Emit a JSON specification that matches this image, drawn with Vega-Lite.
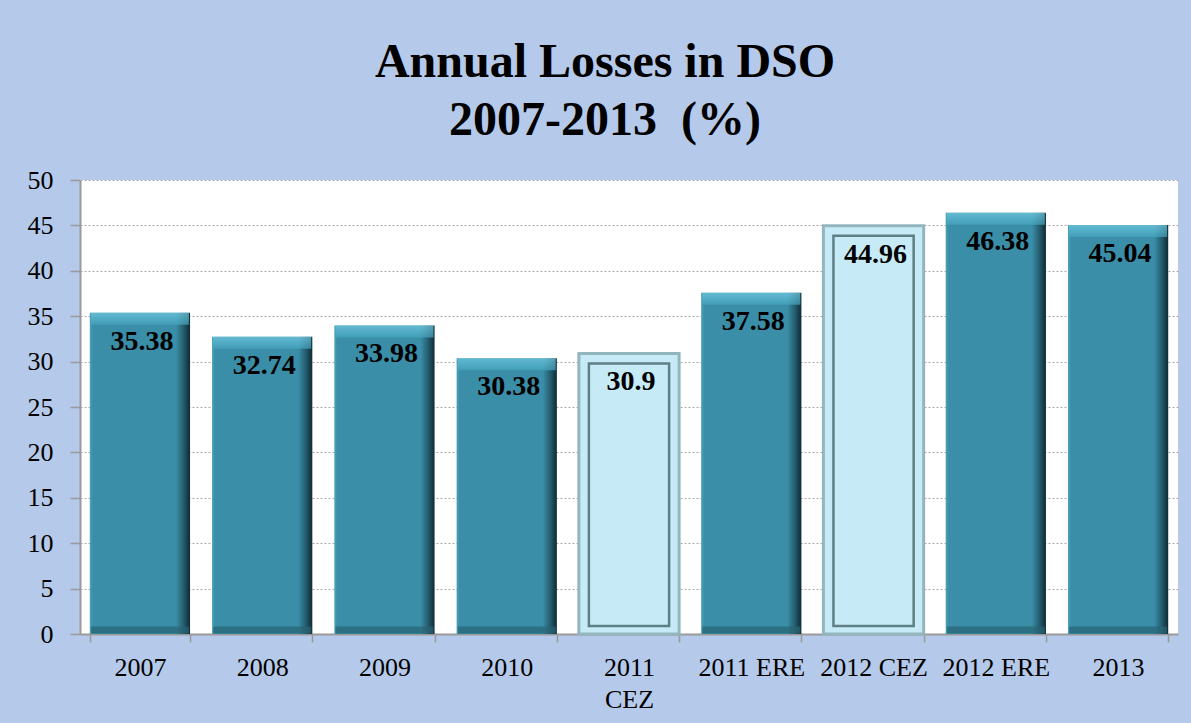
{
  "$schema": "https://vega.github.io/schema/vega-lite/v6.json",
  "autosize": {"type": "none"},
  "padding": {"left": 80, "top": 180, "right": 13, "bottom": 89},
  "width": 1098,
  "height": 454,
  "background": "#b5c9ea",
  "view": {"fill": "white", "stroke": null},
  "title": {
    "text": ["Annual Losses in DSO", "2007-2013\u00a0\u00a0(%)"],
    "font": "Liberation Serif",
    "fontSize": 48,
    "fontWeight": "bold",
    "lineHeight": 58,
    "color": "#000000",
    "anchor": "middle",
    "dx": -24,
    "offset": 22
  },
  "config": {
    "axis": {
      "labelFont": "Liberation Serif",
      "labelFontSize": 26,
      "labelColor": "#000000",
      "domainColor": "#9a9a9a",
      "domainWidth": 2,
      "tickColor": "#9a9a9a",
      "tickWidth": 1.5,
      "title": null
    }
  },
  "data": {
    "values": [
      {"period": "2007", "loss": 35.38, "operator": "DSO"},
      {"period": "2008", "loss": 32.74, "operator": "DSO"},
      {"period": "2009", "loss": 33.98, "operator": "DSO"},
      {"period": "2010", "loss": 30.38, "operator": "DSO"},
      {"period": "2011 CEZ", "loss": 30.9, "operator": "CEZ"},
      {"period": "2011 ERE", "loss": 37.58, "operator": "ERE"},
      {"period": "2012 CEZ", "loss": 44.96, "operator": "CEZ"},
      {"period": "2012 ERE", "loss": 46.38, "operator": "ERE"},
      {"period": "2013", "loss": 45.04, "operator": "DSO"}
    ]
  },
  "encoding": {
    "x": {
      "field": "period",
      "type": "nominal",
      "sort": ["2007", "2008", "2009", "2010", "2011 CEZ", "2011 ERE", "2012 CEZ", "2012 ERE", "2013"],
      "scale": {"paddingInner": 0.18, "paddingOuter": 0.08},
      "axis": {
        "labelAngle": 0,
        "tickBand": "extent",
        "tickSize": 8,
        "labelPadding": 12,
        "labelLineHeight": 32,
        "labelExpr": "datum.label == '2011 CEZ' ? ['2011', 'CEZ'] : datum.label"
      }
    },
    "y": {
      "field": "loss",
      "type": "quantitative",
      "scale": {"domain": [0, 50]},
      "axis": {
        "values": [0, 5, 10, 15, 20, 25, 30, 35, 40, 45, 50],
        "grid": true,
        "gridColor": "#a8a8a8",
        "gridDash": [2, 2],
        "gridWidth": 1,
        "tickSize": 10,
        "labelPadding": 17
      }
    }
  },
  "layer": [
    {
      "transform": [{"filter": "datum.operator != 'CEZ'"}],
      "mark": {
        "type": "bar",
        "color": {
          "gradient": "linear",
          "x1": 0, "x2": 1, "y1": 0, "y2": 0,
          "stops": [
            {"offset": 0, "color": "#4ea3bb"},
            {"offset": 0.03, "color": "#3a8ea8"},
            {"offset": 0.86, "color": "#3a8ea8"},
            {"offset": 0.94, "color": "#23596a"},
            {"offset": 1, "color": "#0f2a33"}
          ]
        }
      }
    },
    {
      "transform": [{"filter": "datum.operator != 'CEZ'"}],
      "mark": {
        "type": "tick",
        "thickness": 12,
        "size": 98,
        "yOffset": 6,
        "color": {
          "gradient": "linear",
          "x1": 0, "x2": 0, "y1": 0, "y2": 1,
          "stops": [
            {"offset": 0, "color": "#74cde4"},
            {"offset": 1, "color": "#45a4be"}
          ]
        }
      }
    },
    {
      "transform": [{"filter": "datum.operator != 'CEZ'"}],
      "mark": {"type": "tick", "thickness": 7, "size": 98, "yOffset": -4, "color": "#2a6474"},
      "encoding": {"y": {"datum": 0}}
    },
    {
      "transform": [{"filter": "datum.operator == 'CEZ'"}],
      "mark": {"type": "bar", "color": "#c6ebf6", "stroke": "#93b6be", "strokeWidth": 3}
    },
    {
      "transform": [{"filter": "datum.operator == 'CEZ'"}],
      "mark": {
        "type": "bar",
        "fill": null,
        "fillOpacity": 0,
        "stroke": "#5f7f87",
        "strokeWidth": 2.5,
        "width": {"band": 0.8},
        "yOffset": 10,
        "y2Offset": -8
      },
      "encoding": {"y2": {"datum": 0}}
    },
    {
      "mark": {
        "type": "text",
        "font": "Liberation Serif",
        "fontSize": 28,
        "fontWeight": "bold",
        "baseline": "alphabetic",
        "dy": 37,
        "dx": 2,
        "color": "#000000"
      },
      "encoding": {"text": {"field": "loss", "type": "quantitative"}}
    }
  ]
}
